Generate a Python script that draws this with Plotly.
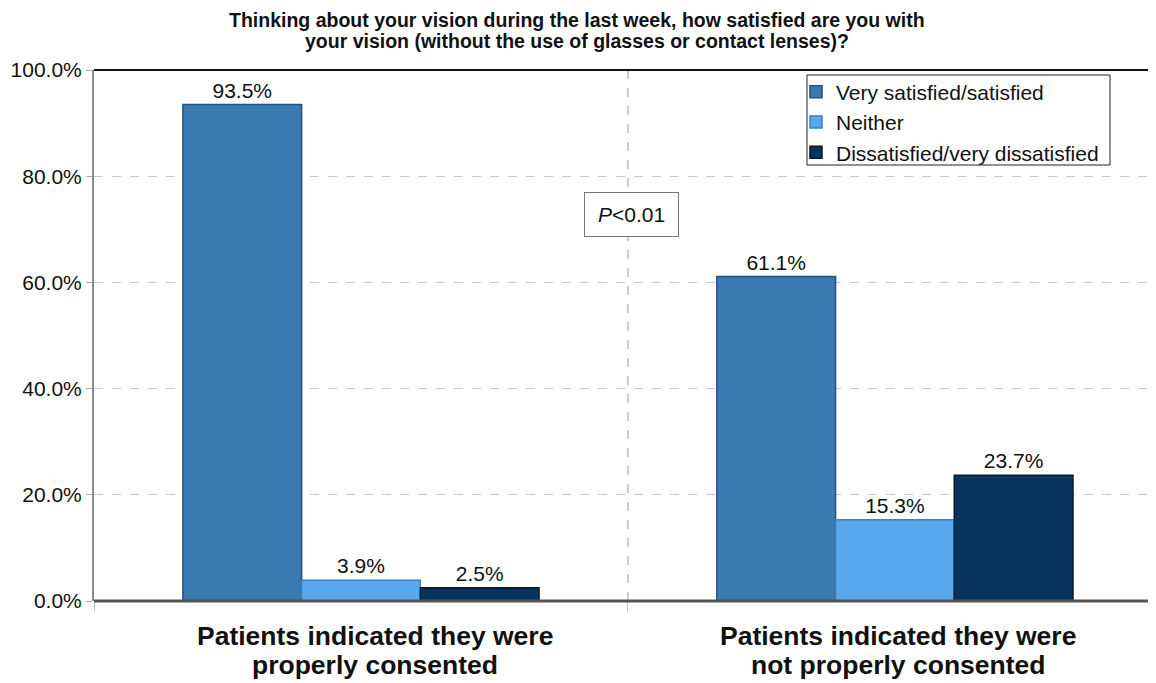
import plotly.graph_objects as go

categories = ["Patients indicated they were properly consented",
              "Patients indicated they were not properly consented"]
category_lines = [["Patients indicated they were", "properly consented"],
                  ["Patients indicated they were", "not properly consented"]]
series_names = ["Very satisfied/satisfied", "Neither", "Dissatisfied/very dissatisfied"]
very_satisfied = [93.5, 61.1]
neither = [3.9, 15.3]
dissatisfied = [2.5, 23.7]
y_ticks = [0, 20, 40, 60, 80, 100]
title_lines = ["Thinking about your vision during the last week, how satisfied are you with",
               "your vision (without the use of glasses or contact lenses)?"]
p_text = "<i>P</i><0.01"

colors = ["#3a79b1", "#58a8ee", "#07335d"]
line_colors = ["#22527f", "#3a82c2", "#021a33"]
FONT = "Arial, 'Liberation Sans', sans-serif"

# page body has an 8px margin, so the figure is laid out 8px smaller
PLOT_W, PLOT_H = 1062, 531
ML, MT = 86, 62
FIG_W, FIG_H = 1148, 675

fig = go.Figure()
for name, vals, c, lc in zip(series_names, [very_satisfied, neither, dissatisfied], colors, line_colors):
    fig.add_trace(go.Bar(
        x=categories, y=vals, name=name,
        marker=dict(color=c, line=dict(color=lc, width=1.5)),
        texttemplate="%{y:.1f}%", textposition="outside",
        textfont=dict(size=21, color="#111", family=FONT),
        cliponaxis=False, hoverinfo="skip",
    ))

annotations = []
for line, yv in zip(title_lines, [1 + 50 / PLOT_H, 1 + 29 / PLOT_H]):
    annotations.append(dict(text=f"<b>{line}</b>", xref="paper", yref="paper",
                            x=(577 - 94) / PLOT_W, y=yv, xanchor="center", yanchor="middle",
                            showarrow=False, font=dict(size=19.5, color="#111", family=FONT)))
offsets = [0.026, 0.006]
for ci, lines in enumerate(category_lines):
    for line, yv in zip(lines, [-35 / PLOT_H, -64 / PLOT_H]):
        annotations.append(dict(text=f"<b>{line}</b>", xref="x", yref="paper",
                                x=ci + offsets[ci], y=yv, xanchor="center", yanchor="middle",
                                showarrow=False, font=dict(size=26.5, color="#111", family=FONT)))
annotations.append(dict(text=p_text, x=0.506, xref="x", y=72.7, yref="y",
                        xanchor="center", yanchor="middle",
                        showarrow=False, font=dict(size=21, color="#111", family=FONT),
                        bgcolor="white", bordercolor="#777", borderwidth=1, borderpad=0,
                        width=93, height=43))

fig.update_layout(
    width=FIG_W, height=FIG_H,
    margin=dict(l=ML, r=FIG_W - ML - PLOT_W, t=MT, b=FIG_H - MT - PLOT_H),
    paper_bgcolor="white", plot_bgcolor="white",
    barmode="group", bargap=0.333, bargroupgap=0,
    font=dict(family=FONT, color="#111"),
    showlegend=True,
    legend=dict(
        x=(796 - 94) / PLOT_W, y=0.997, xanchor="left", yanchor="top",
        borderwidth=0, bgcolor="rgba(0,0,0,0)",
        font=dict(size=21, color="#111", family=FONT),
        itemwidth=30, tracegroupgap=0,
    ),
    xaxis=dict(
        range=[-0.5, 1.489], type="category",
        showgrid=False, showline=False, showticklabels=False,
        tickson="boundaries", ticks="outside", ticklen=10, tickcolor="#c8c8c8", tickwidth=1,
    ),
    yaxis=dict(
        range=[0, 100], tickvals=y_ticks, ticktext=[f"{v:.1f}%" for v in y_ticks],
        showgrid=True, gridcolor="#c8c8c8", griddash="dash", gridwidth=1,
        showline=True, linecolor="#8a8a8a", linewidth=2,
        ticks="outside", ticklen=6, tickcolor="#aaa",
        tickfont=dict(size=21, color="#111", family=FONT),
        zeroline=False,
    ),
    shapes=[
        dict(type="line", xref="paper", yref="paper", x0=0, x1=1, y0=1, y1=1,
             line=dict(color="#111", width=2)),
        dict(type="line", xref="paper", yref="paper", x0=0, x1=1, y0=0, y1=0,
             line=dict(color="#555", width=3)),
        dict(type="line", xref="x", yref="paper", x0=0.5, x1=0.5, y0=0, y1=1,
             line=dict(color="#999", width=1, dash="dash"), layer="below"),
        dict(type="rect", xref="paper", yref="paper",
             x0=(807 - 94) / PLOT_W, x1=(1110 - 94) / PLOT_W,
             y0=(601 - 165) / PLOT_H, y1=(601 - 75) / PLOT_H,
             line=dict(color="#222", width=1), fillcolor="rgba(0,0,0,0)"),
    ],
    annotations=annotations,
)

fig.write_html("out.html")
